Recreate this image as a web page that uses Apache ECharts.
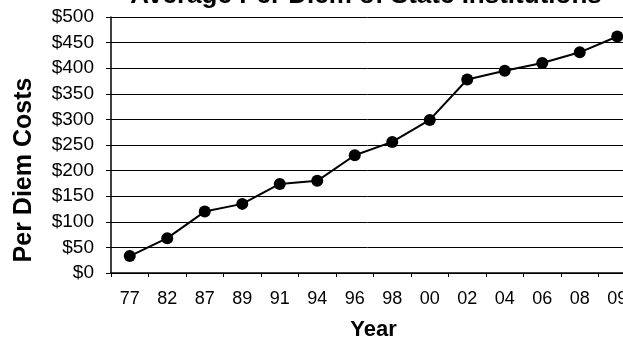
<!DOCTYPE html>
<html>
<head>
<meta charset="utf-8">
<script src="https://cdn.jsdelivr.net/npm/echarts@6/dist/echarts.min.js"></script>
<style>
  html, body { margin: 0; padding: 0; background: #ffffff; }
  #chart { width: 623px; height: 341px; }
</style>
</head>
<body>
<div id="chart"></div>
<script>
var titleText = 'Average Per Diem of State Institutions';
var yAxisTitle = 'Per Diem Costs';
var xAxisTitle = 'Year';
var years = ['77', '82', '87', '89', '91', '94', '96', '98', '00', '02', '04', '06', '08', '09'];
var perDiemCosts = [33, 68, 120, 135, 174, 180, 230, 256, 299, 378, 395, 410, 431, 462];

var chart = echarts.init(document.getElementById('chart'), null, { renderer: 'canvas' });
chart.setOption({
  backgroundColor: '#ffffff',
  animation: false,
  grid: { left: 111, top: 17, width: 525, height: 256, containLabel: false, outerBoundsMode: 'none' },
  graphic: [
    {
      type: 'text', x: 366, y: -4,
      style: { text: titleText, font: 'bold 26px "Liberation Sans", Arial, sans-serif',
               fill: '#000', align: 'center', verticalAlign: 'middle' }
    },
    {
      type: 'text', x: 24, y: 170, rotation: Math.PI / 2,
      style: { text: yAxisTitle, font: 'bold 25px "Liberation Sans", Arial, sans-serif',
               fill: '#000', align: 'center', verticalAlign: 'middle' }
    }
  ],
  xAxis: {
    type: 'category',
    data: years,
    boundaryGap: true,
    name: xAxisTitle,
    nameLocation: 'middle',
    nameGap: 46,
    nameTextStyle: { fontFamily: '"Liberation Sans", Arial, sans-serif', fontSize: 22, fontWeight: 'bold', color: '#000' },
    axisLine: { show: true, lineStyle: { color: '#000', width: 1.5 } },
    axisTick: { show: true, length: 4, inside: false, lineStyle: { color: '#000', width: 1 } },
    axisLabel: { margin: 17, fontFamily: '"Liberation Sans", Arial, sans-serif', fontSize: 18, color: '#000', interval: 0 },
    splitLine: { show: false }
  },
  yAxis: {
    type: 'value',
    min: 0, max: 500, interval: 50,
    axisLine: { show: true, lineStyle: { color: '#000', width: 1.5 } },
    axisTick: { show: true, length: 5, lineStyle: { color: '#000', width: 1 } },
    axisLabel: { margin: 17, fontFamily: '"Liberation Sans", Arial, sans-serif', fontSize: 19, color: '#000',
                 formatter: function (v) { return '$' + v; } },
    splitLine: { show: true, lineStyle: { color: '#000', width: 1 } }
  },
  series: [{
    type: 'line',
    data: perDiemCosts,
    symbol: 'circle',
    symbolSize: 12,
    itemStyle: { color: '#000' },
    lineStyle: { color: '#000', width: 2 }
  }]
});
</script>
</body>
</html>
